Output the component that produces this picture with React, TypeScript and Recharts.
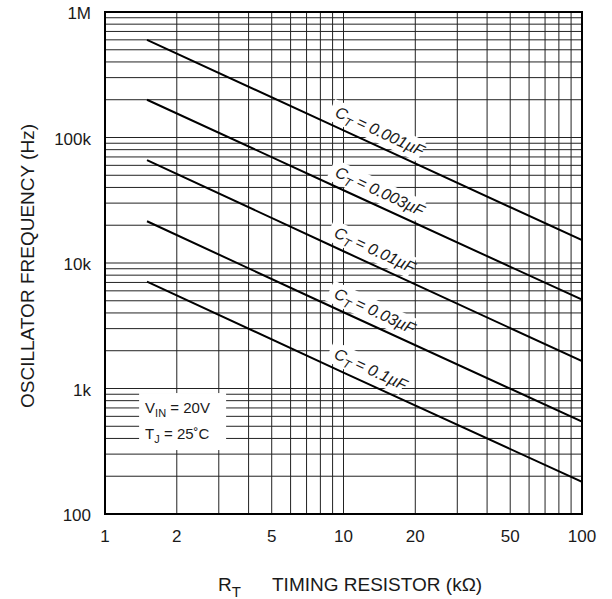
import {
  CartesianGrid,
  Line,
  LineChart,
  ReferenceArea,
  ReferenceDot,
  XAxis,
  YAxis,
} from "recharts";

// timing resistor in kΩ
const timingResistorK = [1.5, 10, 100];

// oscillator frequency (Hz) for each timing capacitor
const freqCt0001 = [600000, 114000, 15200];
const freqCt0003 = [200000, 38000, 5100];
const freqCt001 = [66000, 12400, 1650];
const freqCt003 = [21500, 4050, 545];
const freqCt01 = [7100, 1340, 180];

const capLabels = ["0.001µF", "0.003µF", "0.01µF", "0.03µF", "0.1µF"];
const capLabelAtK = [8.8, 8.8, 8.7, 8.7, 8.7];

const xLabeledTicks = [1, 2, 5, 10, 20, 50, 100];
const xDecades = [1, 10];
const yDecades = [100, 1000, 10000, 100000];
const yTickText: Record<number, string> = {
  100: "100",
  1000: "1k",
  10000: "10k",
  100000: "100k",
  1000000: "1M",
};

const xTicks = [...xDecades.flatMap((d) => [1, 2, 3, 4, 5, 6, 7, 8, 9].map((m) => m * d)), 100];
const yTicks = [...yDecades.flatMap((d) => [1, 2, 3, 4, 5, 6, 7, 8, 9].map((m) => m * d)), 1000000];

const FONT = "'Liberation Sans', Arial, sans-serif";
const INK = "#1a1a1a";
const SLOPE_DEG = 25;

const allSeries = [freqCt0001, freqCt0003, freqCt001, freqCt003, freqCt01];
const seriesData = allSeries.map((vals) =>
  timingResistorK.map((r, i) => ({ r, f: vals[i] }))
);

// where a label sits on its line (log-log position along the drawn segment)
const freqOnLine = (vals: number[], r: number) => {
  const lr = Math.log10(r);
  for (let i = 0; i < timingResistorK.length - 1; i++) {
    const a = Math.log10(timingResistorK[i]);
    const b = Math.log10(timingResistorK[i + 1]);
    if (lr >= a && lr <= b) {
      const t = (lr - a) / (b - a);
      return Math.pow(10, Math.log10(vals[i]) + t * (Math.log10(vals[i + 1]) - Math.log10(vals[i])));
    }
  }
  return vals[0];
};

const CapLabel = ({ cx, cy, text }: any) => {
  const w = 34 + text.length * 9.5;
  return (
    <g transform={`translate(${cx},${cy}) rotate(${SLOPE_DEG})`}>
      <rect x={-6} y={-25} width={w} height={22} fill="#fff" />
      <text x={0} y={-9} fontFamily={FONT} fontSize={16} fontStyle="italic" fill={INK}>
        C
        <tspan dy={4} fontSize={12}>
          T
        </tspan>
        <tspan dy={-4}> = {text}</tspan>
      </text>
    </g>
  );
};

const ConditionBox = ({ cx, cy }: any) => (
  <g transform={`translate(${cx},${cy})`}>
    <rect x={0} y={0} width={87} height={57} fill="#fff" />
    <text x={6} y={20} fontFamily={FONT} fontSize={15} fill={INK}>
      V
      <tspan dy={4} fontSize={11}>
        IN
      </tspan>
      <tspan dy={-4}> = 20V</tspan>
    </text>
    <text x={6} y={46} fontFamily={FONT} fontSize={15} fill={INK}>
      T
      <tspan dy={4} fontSize={11}>
        J
      </tspan>
      <tspan dy={-4}> = 25˚C</tspan>
    </text>
  </g>
);

const XTick = ({ x, y, payload }: any) =>
  xLabeledTicks.includes(payload.value) ? (
    <text x={x} y={y + 28} textAnchor="middle" fontFamily={FONT} fontSize={17} fill={INK}>
      {payload.value}
    </text>
  ) : (
    <g />
  );

const YTick = ({ x, y, payload }: any) =>
  yTickText[payload.value] ? (
    <text x={x - 14} y={y + 7} textAnchor="end" fontFamily={FONT} fontSize={17} fill={INK}>
      {yTickText[payload.value]}
    </text>
  ) : (
    <g />
  );

export default function App() {
  return (
    <div style={{ position: "absolute", left: 0, top: 0, background: "#fff" }}>
      <LineChart
        width={612}
        height={599}
        margin={{ top: 12, right: 30, bottom: 0, left: 0 }}
      >
        <CartesianGrid stroke="#222" strokeWidth={1} />
        <XAxis
          dataKey="r"
          type="number"
          scale="log"
          domain={[1, 100]}
          allowDataOverflow
          ticks={xTicks}
          interval={0}
          tick={<XTick />}
          tickLine={false}
          axisLine={false}
          tickSize={0}
          tickMargin={0}
          height={85}
          label={{
            content: ({ viewBox }: any) => (
              <g fontFamily={FONT} fontSize={19} fill={INK}>
                <text x={viewBox.x + 113} y={viewBox.y + 77}>
                  R
                  <tspan dy={6} fontSize={15}>
                    T
                  </tspan>
                </text>
                <text x={viewBox.x + 167} y={viewBox.y + 77}>
                  TIMING RESISTOR (kΩ)
                </text>
              </g>
            ),
          }}
        />
        <YAxis
          dataKey="f"
          type="number"
          scale="log"
          domain={[100, 1000000]}
          allowDataOverflow
          ticks={yTicks}
          interval={0}
          tick={<YTick />}
          tickLine={false}
          axisLine={false}
          tickSize={0}
          tickMargin={0}
          width={105}
          label={{
            content: ({ viewBox }: any) => (
              <text
                x={27}
                y={viewBox.y + viewBox.height / 2 + 3}
                transform={`rotate(-90, 27, ${viewBox.y + viewBox.height / 2 + 3})`}
                textAnchor="middle"
                dominantBaseline="central"
                fontFamily={FONT}
                fontSize={19}
                fill={INK}
              >
                OSCILLATOR FREQUENCY (Hz)
              </text>
            ),
          }}
        />
        <ReferenceArea
          x1={1}
          x2={100}
          y1={100}
          y2={1000000}
          fill="none"
          stroke="#000"
          strokeWidth={2}
          ifOverflow="visible"
        />
        {seriesData.map((d, i) => (
          <Line
            key={i}
            data={d}
            dataKey="f"
            type="linear"
            stroke="#000"
            strokeWidth={2}
            dot={false}
            isAnimationActive={false}
          />
        ))}
        {capLabels.map((t, i) => (
          <ReferenceDot
            key={t}
            x={capLabelAtK[i]}
            y={freqOnLine(allSeries[i], capLabelAtK[i])}
            r={0}
            shape={(p: any) => <CapLabel {...p} text={t} />}
          />
        ))}
        <ReferenceDot x={1.39} y={920} r={0} shape={(p: any) => <ConditionBox {...p} />} />
      </LineChart>
    </div>
  );
}
